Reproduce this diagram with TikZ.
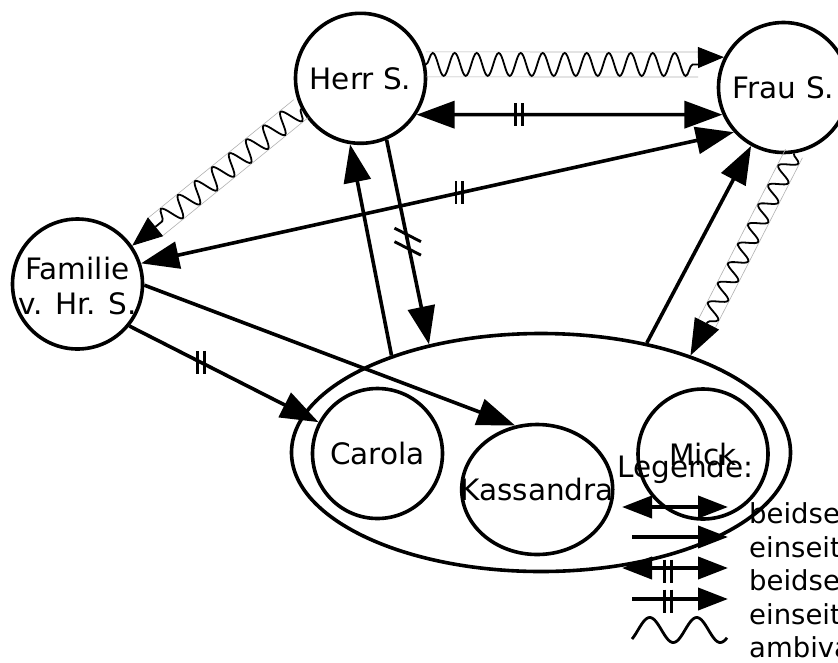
\documentclass[tikz,border=0pt]{standalone}
\usepackage{fontspec}
\setmainfont{DejaVu Sans}
\usetikzlibrary{arrows.meta,shapes.geometric,decorations.pathmorphing,calc}
\tikzset{
  dblbar/.pic={\draw[line width=2.9pt] (-3.4,-11.5) -- (-3.4,11.5) (3.4,-11.5) -- (3.4,11.5);},
  slashbar/.pic={\draw[line width=2.9pt] (-13.2,-13.5) -- (13.2,0) (-13.2,0) -- (13.2,13.5);}
}
\begin{document}
\begin{tikzpicture}[x=1pt,y=-1pt,
  person/.style={circle, draw, line width=3.6pt, minimum size=130pt, inner sep=0pt},
  oval/.style={ellipse, draw, line width=3.6pt, inner sep=0pt},
  lbl/.style={inner sep=0pt, font=\fontsize{29.5pt}{35pt}\selectfont, align=center},
  keytext/.style={inner sep=0pt, anchor=base west, font=\fontsize{27.5pt}{33pt}\selectfont},
  relline/.style={line width=3.6pt},
  onehead/.style={-{Triangle[length=38pt,width=27pt]}},
  twoheads/.style={{Triangle[length=38pt,width=27pt]}-{Triangle[length=38pt,width=27pt]}},
  wavy/.style={decorate, decoration={snake, amplitude=#1, segment length=22pt}, line width=1.8pt},
  bandline/.style={draw=black!30, line width=0.6pt},
  keyline/.style={line width=4pt},
  keyone/.style={-{Triangle[length=30pt,width=22pt]}},
  keytwo/.style={{Triangle[length=30pt,width=22pt]}-{Triangle[length=30pt,width=22pt]}}
]
\useasboundingbox (0,0) rectangle (838,662);
\fill[white] (0,0) rectangle (838,662);
\clip (0,0) rectangle (838,662);

% persons and the family group
\node[person] (herr) at (360.5,78.3) {};
\node[person] (frau) at (783.5,87.5) {};
\node[person] (familie) at (77.5,284) {};
\node[oval, minimum width=499pt, minimum height=238pt] (group) at (541,452.5) {};
\node[person] (carola) at (377.5,453.5) {};
\node[oval, minimum width=151pt, minimum height=130pt] (kassandra) at (537.2,489.5) {};
\node[person] (mick) at (703,454) {};

\node[lbl] (herrT) at (herr) {Herr S.};
\node[lbl] (frauT) at (frau) {Frau S.};
\node[lbl] (familieT) at (77.5,286) {Familie\\v. Hr. S.};
\node[lbl] (carolaT) at (carola) {Carola};
\node[lbl] (kassandraT) at (kassandra) {Kassandra};
\node[lbl] (mickT) at (mick) {Mick};

% ambivalent relations (wavy)
\coordinate (w1e) at (698,64.5);
\coordinate (w1h) at (698,57.5);
\draw[bandline] ($(herr.12)+(0,-12.5)$) -- ($(w1e)+(0,-12.5)$)
                ($(herr.12)+(0,12.5)$) -- ($(w1e)+(0,12.5)$);
\draw[wavy=11.5pt] (herr.12) -- (w1e);
\draw[line width=1pt, -{Triangle[length=26pt,width=21pt]}] (w1h) -- (frau.153.25);

\coordinate (w2e) at ($(familie.35)!30pt!(herr.207.6)$);
\draw[bandline] ($(herr.207.6)!11.5pt!90:(w2e)$) -- ($(w2e)!11.5pt!-90:(herr.207.6)$)
                ($(herr.207.6)!11.5pt!-90:(w2e)$) -- ($(w2e)!11.5pt!90:(herr.207.6)$);
\draw[wavy=10.5pt] (herr.207.6) -- (w2e);
\draw[line width=1pt, -{Triangle[length=30pt,width=24pt]}] (w2e) -- (familie.35);

\coordinate (w3e) at ($(group.33.3)!36pt!(frau.-81.7)$);
\draw[bandline] ($(frau.-81.7)!9.5pt!90:(w3e)$) -- ($(w3e)!9.5pt!-90:(frau.-81.7)$)
                ($(frau.-81.7)!9.5pt!-90:(w3e)$) -- ($(w3e)!9.5pt!90:(frau.-81.7)$);
\draw[wavy=8.5pt] (frau.-81.7) -- (w3e);
\draw[line width=1pt, -{Triangle[length=36pt,width=27pt]}] (w3e) -- (group.33.3);

% relations
\draw[relline, twoheads] (herr.-33) -- (frau.-156.6) coordinate[pos=0.335] (m1);
\pic at (m1) {dblbar};
\draw[relline, twoheads] (familie.18.8) -- (frau.-138.6) coordinate[pos=0.537] (m2);
\pic at (m2) {dblbar};
\draw[relline, onehead] (familie.-39.3) -- (carola.152.5) coordinate[pos=0.377] (m3);
\pic at (m3) {dblbar};
\draw[relline, onehead] (familie.-1) -- (kassandra.109.7);
\draw[relline, onehead] (group.147.4) -- (herr.-99);
\draw[relline, onehead] (herr.-67.4) -- (group.136.4) coordinate[pos=0.498] (m4);
\pic at (m4) {slashbar};
\draw[relline, onehead] (group.46.4) -- (frau.-119.4);

% legend
\node[lbl, anchor=base west] (legende) at (617,477) {Legende:};
\draw[keyline, keytwo] (622,507) -- (728,507);
\draw[keyline, keyone] (632,537) -- (728,537);
\draw[keyline, keytwo] (622,568) -- (728,568);
\pic at (668,571) {dblbar};
\draw[keyline, keyone] (632,599) -- (728,599);
\pic at (668,601) {dblbar};
\draw[line width=2.8pt] plot[domain=632:727, samples=90, smooth] (\x,{630-12.5*sin(7.6596*(\x-638))});
\node[keytext] (k1) at (749,523) {beidseitig};
\node[keytext] (k2) at (749,557) {einseitig};
\node[keytext] (k3) at (749,590) {beidseitig};
\node[keytext] (k4) at (749,624) {einseitig};
\node[keytext] (k5) at (749,657) {ambivalent};
\end{tikzpicture}
\end{document}
